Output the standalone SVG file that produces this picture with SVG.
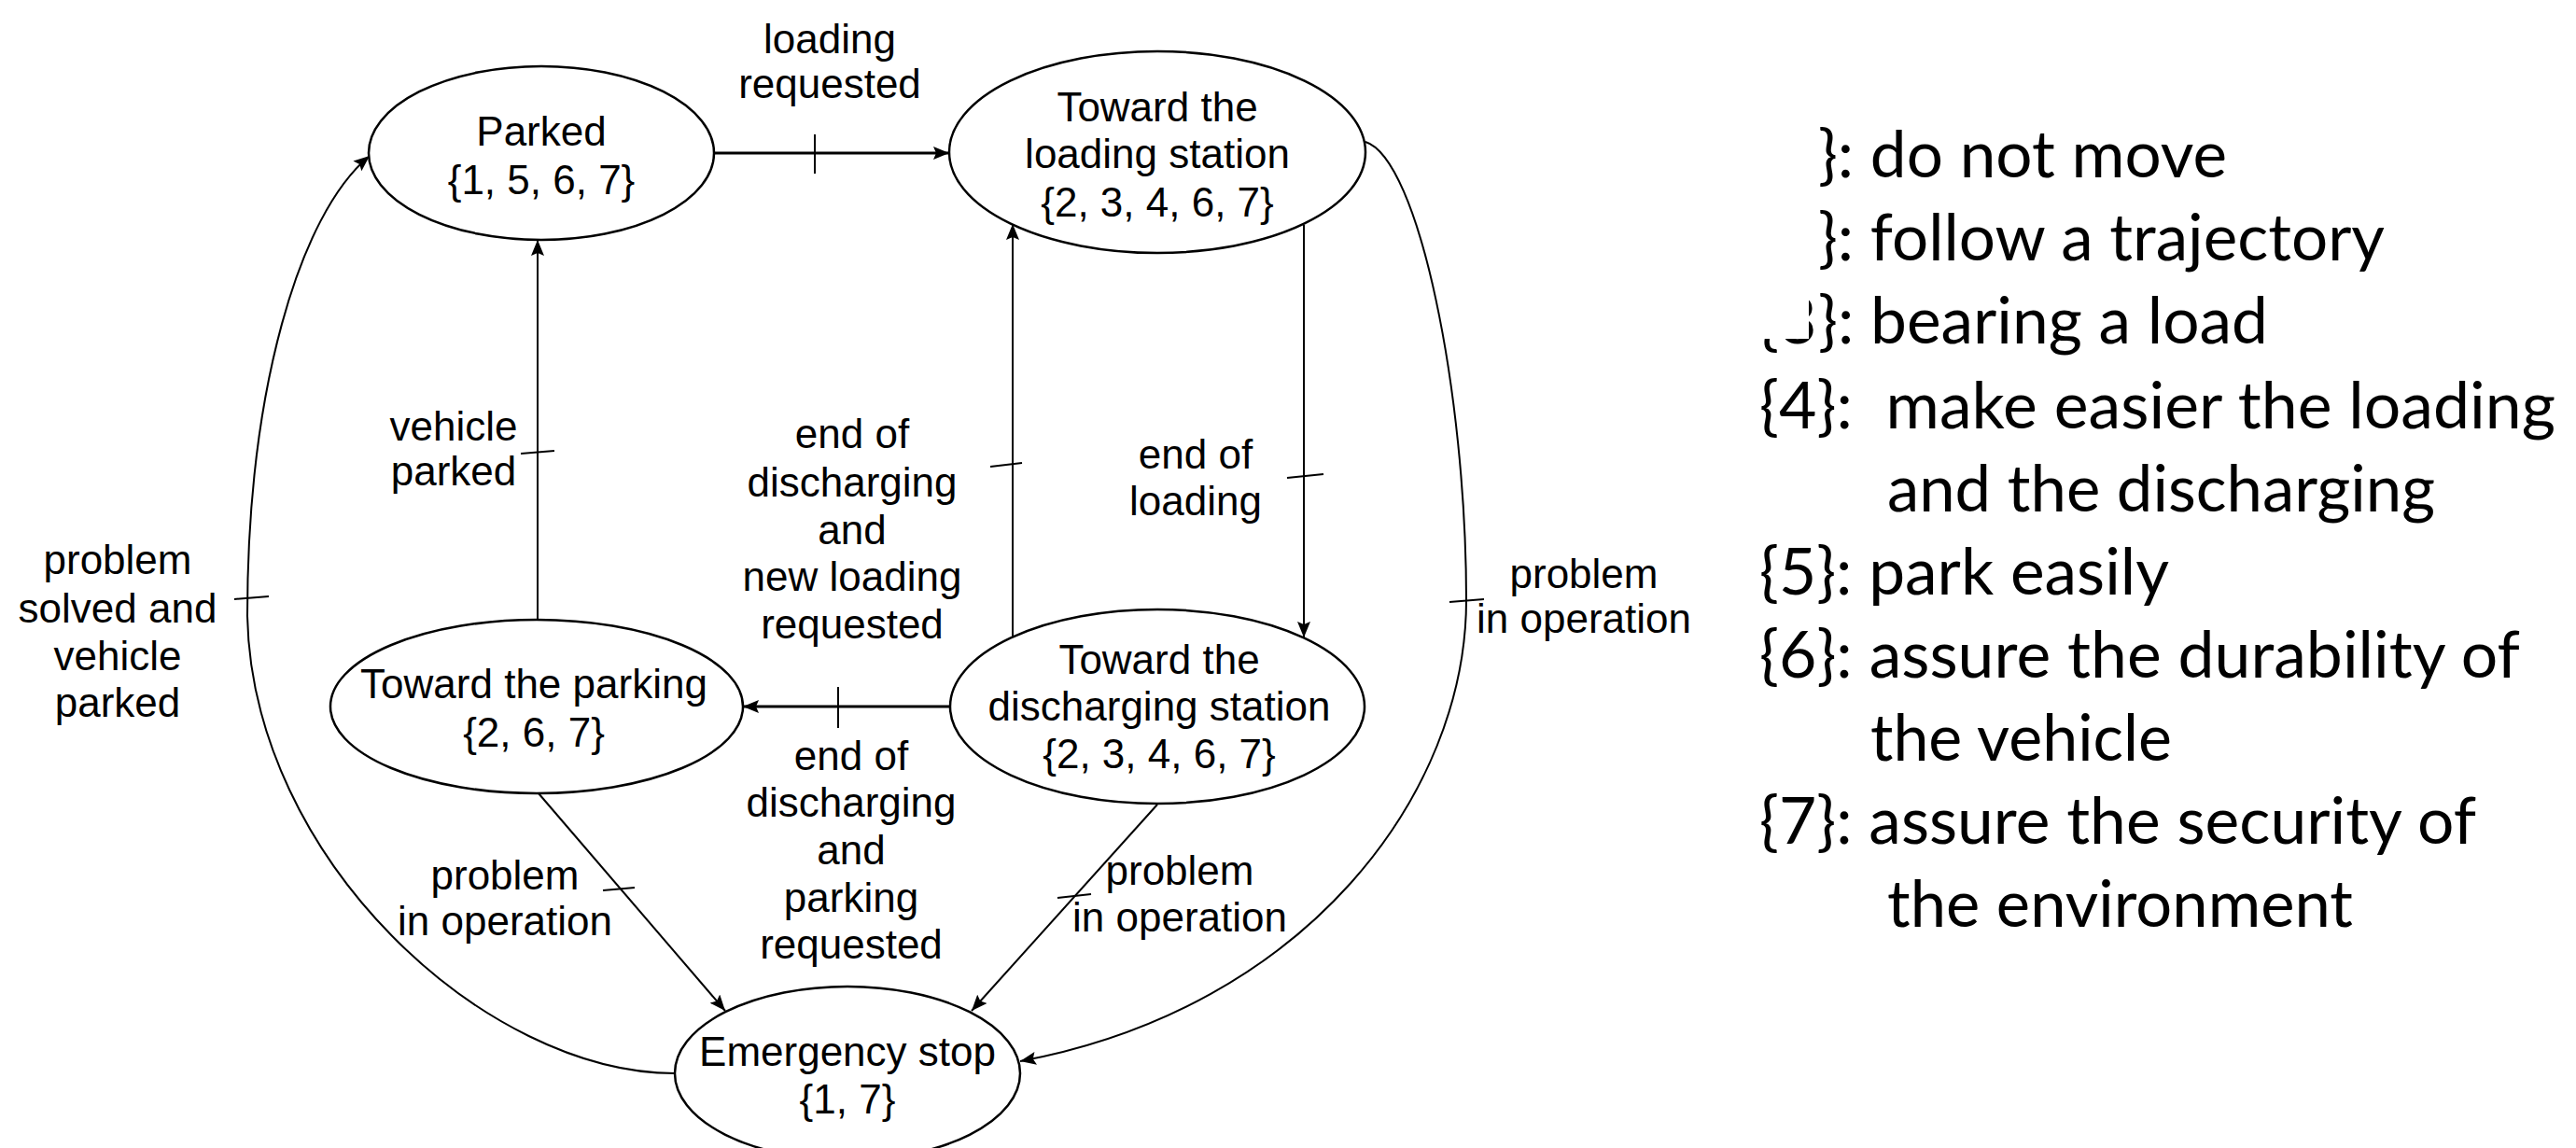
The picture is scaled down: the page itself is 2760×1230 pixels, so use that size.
<svg xmlns="http://www.w3.org/2000/svg" width="2760" height="1230" viewBox="0 0 2760 1230">
<defs>
<marker id="arr" markerUnits="userSpaceOnUse" markerWidth="18" markerHeight="14" refX="17" refY="7" orient="auto">
<path d="M0,0 L17,7 L0,14 L3,7 z" fill="#000"/>
</marker>
<style>
.node ellipse{fill:#fff;stroke:#000;stroke-width:2.5}
.t{font-family:"Liberation Sans",Arial,sans-serif;font-size:44px;fill:#000;text-anchor:middle}
.e{fill:none;stroke:#000;stroke-width:2}
.h{fill:none;stroke:#000;stroke-width:3}
.tick{stroke:#000;stroke-width:2;fill:none}
.lg{font-family:Lato,"Open Sans",sans-serif;font-size:70px;fill:#000}
</style>
</defs>
<rect width="2760" height="1230" fill="#fff"/>

<g id="connectors">
<path class="h" d="M765,164 L1017,164" marker-end="url(#arr)"/>
<path class="h" d="M1018,757 L796,757" marker-end="url(#arr)"/>
<path class="e" d="M576,664 L576,257" marker-end="url(#arr)"/>
<path class="e" d="M1085,682 L1085,240" marker-end="url(#arr)"/>
<path class="e" d="M1397,241 L1397,683" marker-end="url(#arr)"/>
<path class="e" d="M577,850 L777,1083" marker-end="url(#arr)"/>
<path class="e" d="M1240,862 L1041,1083" marker-end="url(#arr)"/>
<path class="e" d="M1463,152 C1520,170 1571,420 1571,643 C1571,850 1400,1080 1093,1137" marker-end="url(#arr)"/>
<path class="e" d="M723,1150 C520,1150 270,920 265,660 C265,420 320,230 396,167" marker-end="url(#arr)"/>
<path class="tick" d="M873,144 L873,186"/>
<path class="tick" d="M898,736 L898,780"/>
<path class="tick" d="M558,486 L594,483"/>
<path class="tick" d="M1061,500 L1095,496"/>
<path class="tick" d="M1379,512 L1418,508"/>
<path class="tick" d="M646,954 L680,951"/>
<path class="tick" d="M1133,962 L1169,958"/>
<path class="tick" d="M251,642 L288,639"/>
<path class="tick" d="M1553,645 L1590,642"/>
</g>

<g id="labels">
<text class="t" x="889" y="57">loading</text>
<text class="t" x="889" y="105">requested</text>
<text class="t" x="486" y="472">vehicle</text>
<text class="t" x="486" y="520">parked</text>
<text class="t" x="126" y="615">problem</text>
<text class="t" x="126" y="667">solved and</text>
<text class="t" x="126" y="718">vehicle</text>
<text class="t" x="126" y="768">parked</text>
<text class="t" x="913" y="480">end of</text>
<text class="t" x="913" y="532">discharging</text>
<text class="t" x="913" y="583">and</text>
<text class="t" x="913" y="633">new loading</text>
<text class="t" x="913" y="684">requested</text>
<text class="t" x="1281" y="502">end of</text>
<text class="t" x="1281" y="552">loading</text>
<text class="t" x="1697" y="630">problem</text>
<text class="t" x="1697" y="678">in operation</text>
<text class="t" x="912" y="825">end of</text>
<text class="t" x="912" y="875">discharging</text>
<text class="t" x="912" y="926">and</text>
<text class="t" x="912" y="977">parking</text>
<text class="t" x="912" y="1027">requested</text>
<text class="t" x="541" y="953">problem</text>
<text class="t" x="541" y="1002">in operation</text>
<text class="t" x="1264" y="948">problem</text>
<text class="t" x="1264" y="998">in operation</text>
</g>

<g id="parked" class="node">
<ellipse cx="580" cy="164" rx="185" ry="93"/>
<text class="t" x="580" y="156">Parked</text>
<text class="t" x="580" y="208">{1, 5, 6, 7}</text>
</g>
<g id="loading" class="node">
<ellipse cx="1240" cy="163" rx="223" ry="108"/>
<text class="t" x="1240" y="130">Toward the</text>
<text class="t" x="1240" y="180">loading station</text>
<text class="t" x="1240" y="232">{2, 3, 4, 6, 7}</text>
</g>
<g id="parking" class="node">
<ellipse cx="575" cy="757" rx="221" ry="93"/>
<text class="t" x="572" y="748">Toward the parking</text>
<text class="t" x="572" y="800">{2, 6, 7}</text>
</g>
<g id="discharging" class="node">
<ellipse cx="1240" cy="757" rx="222" ry="104"/>
<text class="t" x="1242" y="722">Toward the</text>
<text class="t" x="1242" y="772">discharging station</text>
<text class="t" x="1242" y="823">{2, 3, 4, 6, 7}</text>
</g>
<g id="emergency" class="node">
<ellipse cx="908" cy="1150" rx="185" ry="93"/>
<text class="t" x="908" y="1142">Emergency stop</text>
<text class="t" x="908" y="1193">{1, 7}</text>
</g>

<g id="legend">
<text class="lg" x="1880" y="190">{1</text>
<text class="lg" x="1948" y="190" textLength="438" lengthAdjust="spacingAndGlyphs">}: do not move</text>
<text class="lg" x="1876" y="279">{2</text>
<text class="lg" x="1948" y="279" textLength="607" lengthAdjust="spacingAndGlyphs">}: follow a trajectory</text>
<text class="lg" x="1885" y="368">{3</text>
<text class="lg" x="1948" y="368" textLength="482" lengthAdjust="spacingAndGlyphs">}: bearing a load</text>
<rect x="1840" y="110" width="98" height="253" fill="#fff"/>
<text class="lg" x="1885" y="459" textLength="853" lengthAdjust="spacingAndGlyphs" xml:space="preserve">{4}:  make easier the loading</text>
<text class="lg" x="2022" y="548" textLength="587" lengthAdjust="spacingAndGlyphs">and the discharging</text>
<text class="lg" x="1885" y="637" textLength="439" lengthAdjust="spacingAndGlyphs">{5}: park easily</text>
<text class="lg" x="1885" y="726" textLength="815" lengthAdjust="spacingAndGlyphs">{6}: assure the durability of</text>
<text class="lg" x="2004" y="815" textLength="323" lengthAdjust="spacingAndGlyphs">the vehicle</text>
<text class="lg" x="1885" y="904" textLength="768" lengthAdjust="spacingAndGlyphs">{7}: assure the security of</text>
<text class="lg" x="2022" y="993" textLength="499" lengthAdjust="spacingAndGlyphs">the environment</text>
</g>
</svg>
